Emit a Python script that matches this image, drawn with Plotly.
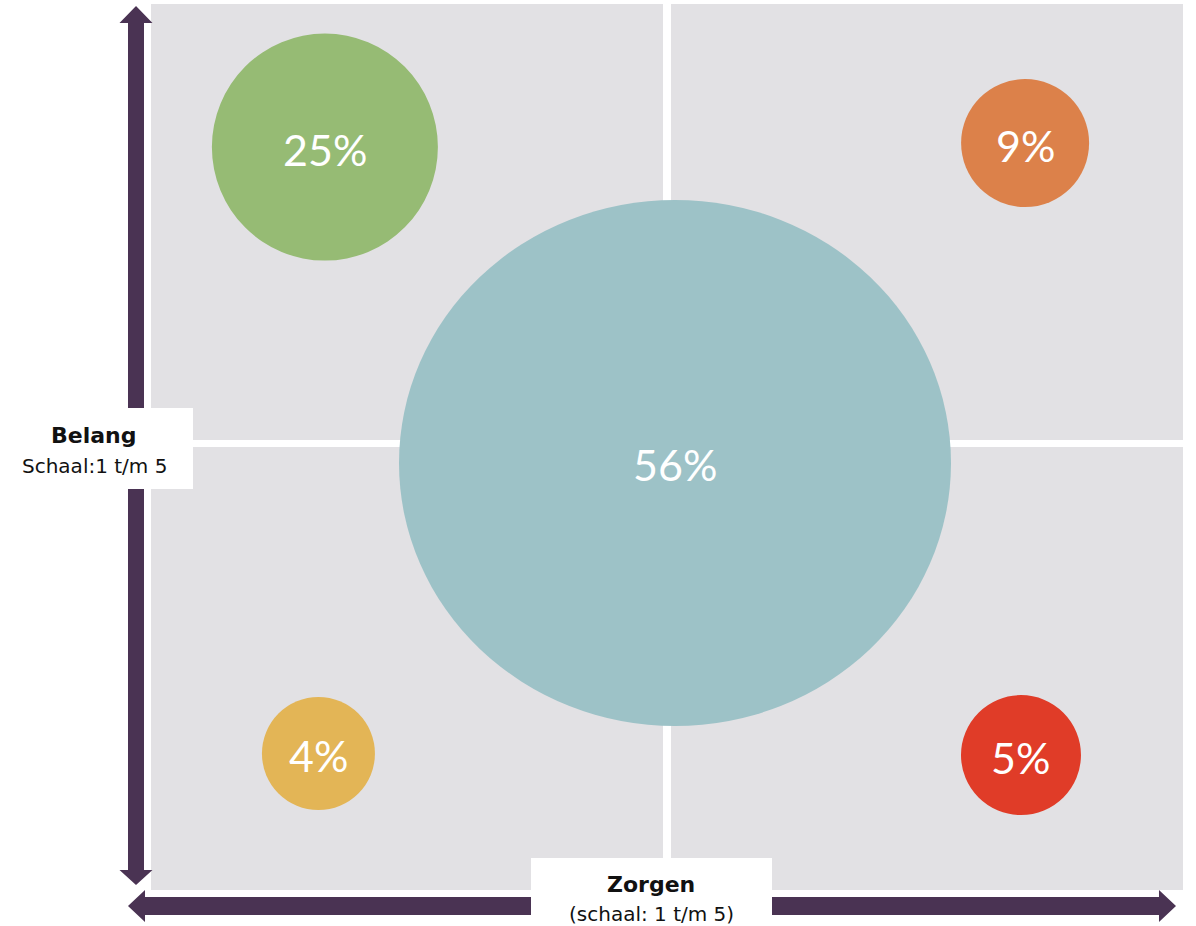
import plotly.graph_objects as go

# ---- data ----
labels = ["25%", "9%", "56%", "4%", "5%"]
shares = [25, 9, 56, 4, 5]
zorgen = [1.674, 4.388, 3.031, 1.649, 4.372]   # x: Zorgen score (1-5)
belang = [4.354, 4.372, 2.928, 1.616, 1.609]   # y: Belang score (1-5)

# ---- styles ----
colors = ["#96BB74", "#DC814A", "#9DC2C7", "#E3B556", "#E03C28"]
rx_px = [113, 64, 276, 56.5, 60]
ry_px = [113.5, 64, 263, 56.5, 60]
GREY = "#E2E1E4"
PURPLE = "#4A3353"
W, H = 1196, 926
ML, MR, MT, MB = 151, 13, 4, 36
PW, PH = W - ML - MR, H - MT - MB
X0, X1, Y0, Y1 = 1, 5, 1, 5
ux = PW / (X1 - X0)   # px per unit
uy = PH / (Y1 - Y0)

def px2paper_x(px):
    return (px - ML) / PW

def px2paper_y(py):
    return (H - MB - py) / PH

shapes = []
# quadrants
gx = 4 / ux
gy0, gy1 = 3.0, 3.0 + 7 / uy
quads = [(X0, 3 - gx, gy1, Y1), (3 + gx, X1, gy1, Y1),
         (X0, 3 - gx, Y0, gy0), (3 + gx, X1, Y0, gy0)]
for a, b, c, d in quads:
    shapes.append(dict(type="rect", xref="x", yref="y", x0=a, x1=b, y0=c, y1=d,
                       fillcolor=GREY, line=dict(width=0), layer="below"))
# bubbles
for cx, cy, rx, ry, col in zip(zorgen, belang, rx_px, ry_px, colors):
    shapes.append(dict(type="circle", xref="x", yref="y",
                       x0=cx - rx / ux, x1=cx + rx / ux,
                       y0=cy - ry / uy, y1=cy + ry / uy,
                       fillcolor=col, line=dict(width=0), layer="below"))

# arrows (pixel geometry -> paper)
def poly(points):
    p = "M " + " L ".join(f"{px2paper_x(x):.5f},{px2paper_y(y):.5f}" for x, y in points) + " Z"
    return dict(type="path", xref="paper", yref="paper", path=p,
                fillcolor=PURPLE, line=dict(width=0), layer="above")

# vertical double arrow
vc, vs, vh = 136, 8, 16.5
shapes.append(poly([(vc, 6), (vc + vh, 23), (vc + vs, 23), (vc + vs, 870),
                    (vc + vh, 870), (vc, 885), (vc - vh, 870), (vc - vs, 870),
                    (vc - vs, 23), (vc - vh, 23)]))
# horizontal double arrow
hc, hs, hh = 906, 9, 16
shapes.append(poly([(128, hc), (145, hc - hh), (145, hc - hs), (1159, hc - hs),
                    (1159, hc - hh), (1176, hc), (1159, hc + hh), (1159, hc + hs),
                    (145, hc + hs), (145, hc + hh)]))
# label boxes
for x0, x1, y0, y1 in [(0, 193, 408, 489), (531, 772, 858, 930)]:
    shapes.append(dict(type="rect", xref="paper", yref="paper",
                       x0=px2paper_x(x0), x1=px2paper_x(x1),
                       y0=px2paper_y(y1), y1=px2paper_y(y0),
                       fillcolor="white", line=dict(width=0), layer="above"))

LFONT = "DejaVu Sans, sans-serif"
PFONT = "Lato, Open Sans, sans-serif"
annotations = []
def ann(text, x, y, size, bold=False):
    annotations.append(dict(text=f"<b>{text}</b>" if bold else text,
                            xref="paper", yref="paper",
                            x=px2paper_x(x), y=px2paper_y(y),
                            xanchor="center", yanchor="middle", showarrow=False,
                            font=dict(family=LFONT, size=size, color="#111111")))
ann("Belang", 94, 435, 22, True)
ann("Schaal:1 t/m 5", 94, 466, 20)
ann("Zorgen", 651, 884, 22, True)
ann("(schaal: 1 t/m 5)", 651, 914, 20)

# percentage labels on the bubbles
for cx, cy, lab in zip(zorgen, belang, labels):
    annotations.append(dict(text=lab, xref="x", yref="y", x=cx, y=cy,
                            xanchor="center", yanchor="middle", showarrow=False,
                            yshift=-2,
                            font=dict(family=PFONT, size=43, color="white")))

fig = go.Figure()
fig.add_trace(go.Scatter(x=zorgen, y=belang, mode="markers", hoverinfo="skip",
                         marker=dict(size=1, opacity=0)))
fig.update_layout(
    width=W, height=H, margin=dict(l=ML, r=MR, t=MT, b=MB),
    paper_bgcolor="white", plot_bgcolor="white", showlegend=False,
    xaxis=dict(range=[X0, X1], visible=False, fixedrange=True),
    yaxis=dict(range=[Y0, Y1], visible=False, fixedrange=True),
    shapes=shapes, annotations=annotations,
)
fig.write_html("out.html", config={"displayModeBar": False},
               post_script="document.body.style.margin='0';document.body.style.overflow='hidden';")
